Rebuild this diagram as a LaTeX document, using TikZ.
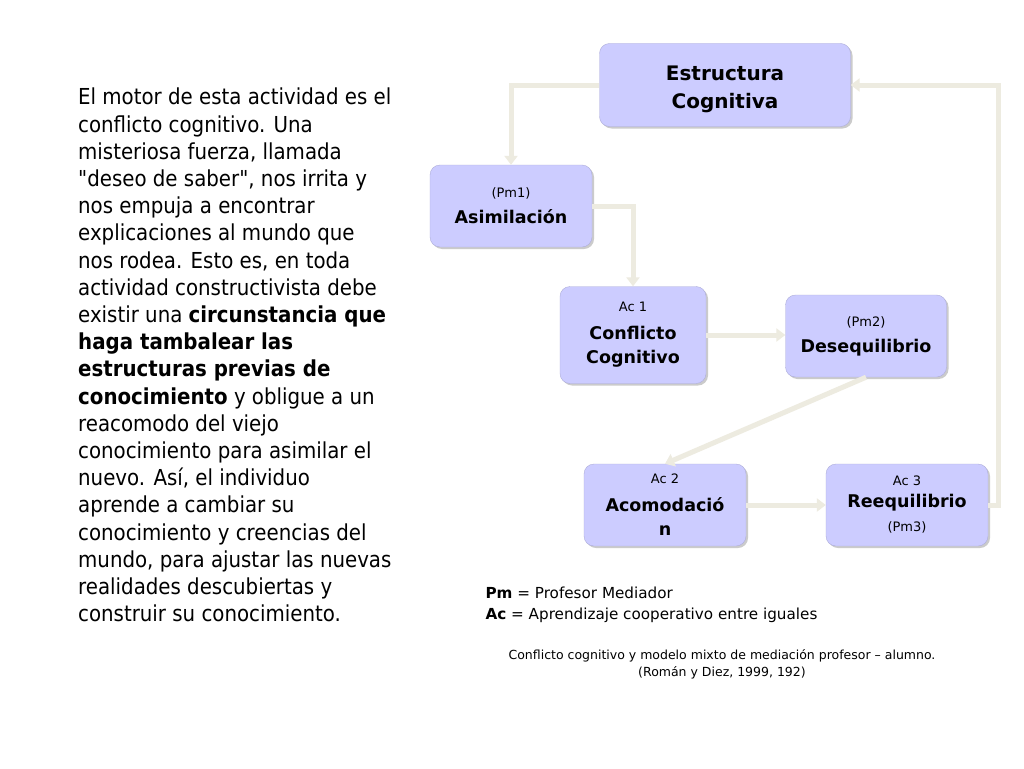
\documentclass[tikz,border=0pt]{standalone}
\usepackage{fontspec}
\setmainfont{DejaVu Sans}
\newfontfamily\condfont{DejaVu Sans Condensed}
\usetikzlibrary{arrows.meta,shadows}
\definecolor{boxfill}{RGB}{204,204,255}
\definecolor{flowcol}{RGB}{237,235,224}
\newcommand\etiq{\mdseries\fontsize{13}{15}\selectfont}

\begin{document}
\begin{tikzpicture}[x=1pt,y=-1pt,
  stage/.style={fill=boxfill,draw=boxfill!85!black,rounded corners=10pt,align=center,
    drop shadow={shadow xshift=2pt,shadow yshift=-2pt,fill=black!40},
    minimum width=162pt,minimum height=82pt,inner sep=2pt,
    font=\bfseries\fontsize{17.5}{24}\selectfont},
  flow/.style={draw=flowcol,line width=5pt,-{Triangle[width=13pt,length=9pt]}},
]
\useasboundingbox[fill=white] (0,0) rectangle (1024,768);
\node[anchor=north west,align=left,inner sep=0pt,
  font=\condfont\fontsize{22}{27.2}\selectfont] (motor) at (78,88) {%
El motor de esta actividad es el\\
conflicto cognitivo. Una\\
misteriosa fuerza, llamada\\
"deseo de saber", nos irrita y\\
nos empuja a encontrar\\
explicaciones al mundo que\\
nos rodea. Esto es, en toda\\
actividad constructivista debe\\
existir una \textbf{circunstancia que}\\
\textbf{haga tambalear las}\\
\textbf{estructuras previas de}\\
\textbf{conocimiento} y obligue a un\\
reacomodo del viejo\\
conocimiento para asimilar el\\
nuevo. Así, el individuo\\
aprende a cambiar su\\
conocimiento y creencias del\\
mundo, para ajustar las nuevas\\
realidades descubiertas y\\
construir su conocimiento.};
\node[stage,minimum width=251pt,minimum height=83pt,
  font=\bfseries\fontsize{20}{28}\selectfont] (estructura) at (725,85) {\rule{0pt}{24pt}Estructura\\Cognitiva};
\node[stage] (asimilacion) at (511,206) {{\etiq (Pm1)}\\[2pt]Asimilación};
\node[stage,minimum width=146pt,minimum height=97pt] (conflicto) at (633,335) {{\etiq Ac 1}\\[4pt]Conflicto\\Cognitivo};
\node[stage,minimum width=161pt] (desequilibrio) at (866,336) {{\etiq (Pm2)}\\[2pt]Desequilibrio};
\node[stage] (acomodacion) at (665,505) {{\etiq Ac 2}\\[4pt]Acomodació\\n};
\node[stage] (reequilibrio) at (907,505) {{\etiq Ac 3}\\[-2pt]Reequilibrio\\{\etiq (Pm3)}};
\coordinate (vuelta) at (998,505);
\draw[flow] (estructura.west) -| (asimilacion.north);
\draw[flow] (asimilacion.east) -| (conflicto.north);
\draw[flow] (conflicto.east) -- (conflicto.east -| desequilibrio.west);
\draw[flow] (desequilibrio.south) -- (acomodacion.north);
\draw[flow] (acomodacion.east) -- (reequilibrio.west);
\draw[flow] (reequilibrio.east) -- (vuelta) |- (estructura.east);
\node[anchor=base west,font=\fontsize{15.2}{18}\selectfont] (pm) at (482,598) {\textbf{Pm} = Profesor Mediador};
\node[anchor=base west,font=\fontsize{15.2}{18}\selectfont] (ac) at (482,619) {\textbf{Ac} = Aprendizaje cooperativo entre iguales};
\node[anchor=base,align=center,font=\fontsize{12.5}{17}\selectfont] (fuente) at (722,676) {Conflicto cognitivo y modelo mixto de mediación profesor – alumno.\\(Román y Diez, 1999, 192)};
\end{tikzpicture}
\end{document}
